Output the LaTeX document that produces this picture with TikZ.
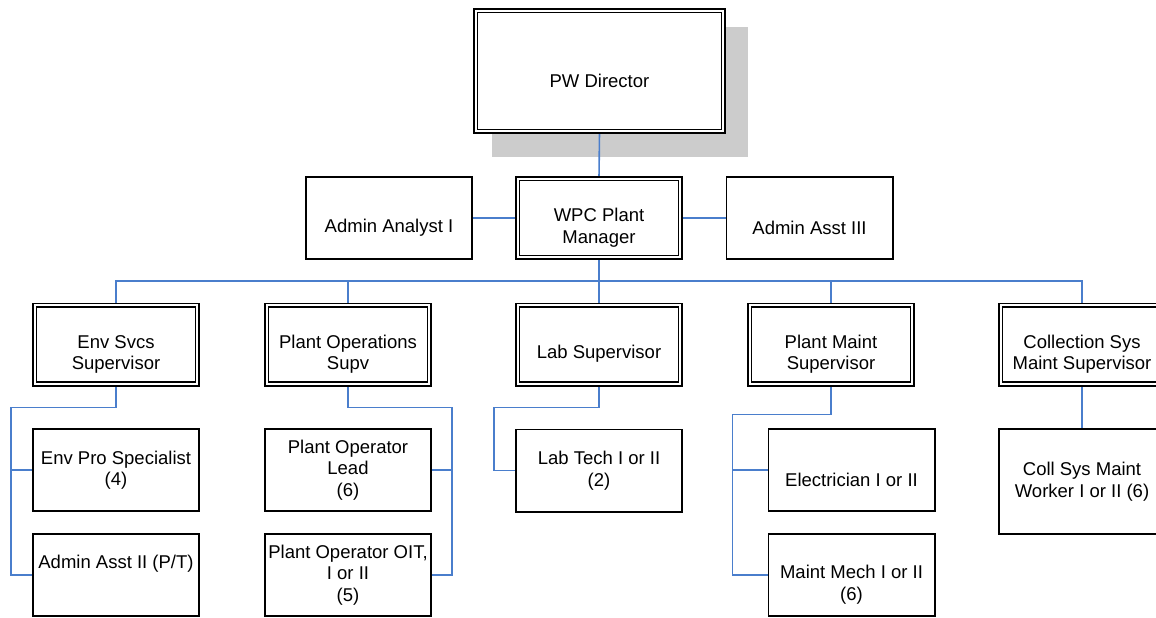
\documentclass[tikz,border=0pt]{standalone}
\usepackage{fontspec}
\setmainfont{Liberation Sans}
\usetikzlibrary{backgrounds}
\definecolor{linkblue}{RGB}{74,126,204}
\definecolor{shadowgray}{RGB}{204,204,204}
\newcommand{\topgap}{\rule{0pt}{11pt}\\}
\newcommand{\bottomgap}{\\\rule[-4pt]{0pt}{4pt}}
\tikzset{
	jobbox/.style={draw=black, line width=1.7pt, fill=white, align=center, inner sep=2pt,
		minimum width=166.3pt, minimum height=82.3pt, font=\fontsize{18.5}{21.5}\selectfont},
	leadbox/.style={jobbox, double, double distance=2pt, minimum width=162.6pt, minimum height=78.6pt},
	link/.style={draw=linkblue, line width=1.6pt}
}

\begin{document}
\begin{tikzpicture}[x=1pt, y=-1pt]
		%%%%% FRAME %%%%%
		\useasboundingbox (0,0) rectangle (1156,618);
		\clip (0,0) rectangle (1156,618);
		
		%%%%% TOP %%%%%
		\node[leadbox, minimum width=247.6pt, minimum height=120.6pt] (dir) at (599.5,71) {\topgap PW Director};
		\node[leadbox] (mgr) at (599,218) {\topgap WPC Plant\\Manager};
		\node[jobbox] (analyst) at (389,218) {\topgap Admin Analyst I};
		\node[jobbox] (asst3) at (809.5,218) {\topgap Admin Asst III};
		
		%%%%% SUPERVISORS %%%%%
		\node[leadbox] (env) at (116,344.5) {\topgap Env Svcs\\Supervisor};
		\node[leadbox] (ops) at (348,344.5) {\topgap Plant Operations\\Supv};
		\node[leadbox] (lab) at (599,344.5) {\topgap Lab Supervisor};
		\node[leadbox] (maint) at (831,344.5) {\topgap Plant Maint\\Supervisor};
		\node[leadbox] (coll) at (1082,344.5) {\topgap Collection Sys\\Maint Supervisor};
		
		%%%%% STAFF %%%%%
		\node[jobbox] (envpro) at (116,470) {Env Pro Specialist\\(4)};
		\node[jobbox] (adm2) at (116,575) {Admin Asst II (P/T)\bottomgap};
		\node[jobbox] (oplead) at (348,470) {Plant Operator\\Lead\\(6)};
		\node[jobbox] (opoit) at (348,575) {Plant Operator OIT,\\I or II\\(5)};
		\node[jobbox] (labtech) at (599,470.5) {Lab Tech I or II\\(2)};
		\node[jobbox] (elec) at (851.5,470) {\topgap Electrician I or II};
		\node[jobbox] (mech) at (851.5,575) {\topgap Maint Mech I or II\\(6)};
		\node[jobbox, minimum height=105.3pt] (worker) at (1082,481.5) {Coll Sys Maint\\Worker I or II (6)};
		
		%%%%% LINES %%%%%
		\begin{pgfonlayer}{background}
			\fill[shadowgray] ([xshift=17.4pt, yshift=-17.4pt]dir.north west) rectangle ([xshift=23.6pt, yshift=-24.6pt]dir.south east);
			
			\draw[link] (dir.south) -- (mgr.north);
			\draw[link] (analyst.east) -- (mgr.west);
			\draw[link] (mgr.east) -- (asst3.west);
			
			\coordinate (bus) at (599,281);
			\draw[link] (env.north) |- (bus) -| (coll.north);
			\foreach \n in {mgr.south, ops.north, lab.north, maint.north}
				\draw[link] (\n) -- (\n |- bus);
			
			\draw[link] (env.south) -- ++(0,23) -| ([xshift=-21pt]adm2.west) -- (adm2.west);
			\draw[link] (envpro.west) -- ++(-21pt,0);
			
			\draw[link] (ops.south) -- ++(0,23) -| ([xshift=20pt]opoit.east) -- (opoit.east);
			\draw[link] (oplead.east) -- ++(20pt,0);
			
			\draw[link] (lab.south) -- ++(0,23) -| ([xshift=-21pt]labtech.west) -- (labtech.west);
			
			\draw[link] (maint.south) -- ++(0,30) -| ([xshift=-35pt]mech.west) -- (mech.west);
			\draw[link] (elec.west) -- ++(-35pt,0);
			
			\draw[link] (coll.south) -- (worker.north);
		\end{pgfonlayer}
		
	\end{tikzpicture}
\end{document}
